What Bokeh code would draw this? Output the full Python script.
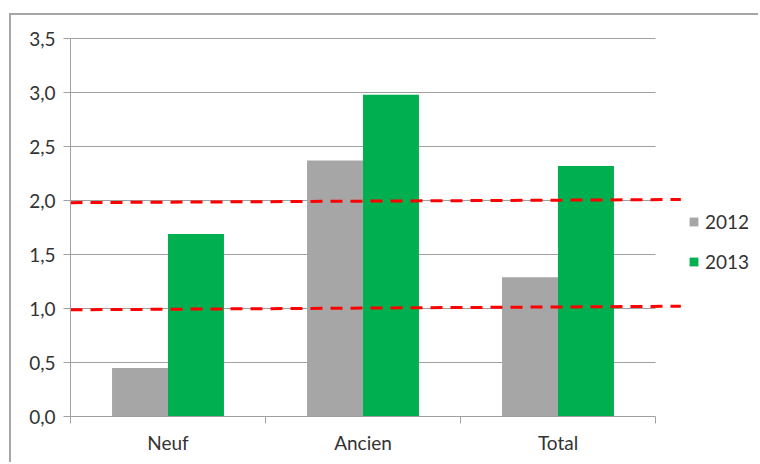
from bokeh.plotting import figure
from bokeh.models import Range1d, FixedTicker, Legend, LegendItem, ColumnDataSource
from bokeh.embed import file_html
from bokeh.resources import INLINE

categories = ["Neuf", "Ancien", "Total"]
values_2012 = [0.45, 2.37, 1.29]
values_2013 = [1.69, 2.98, 2.32]
y_ticks = [0.0, 0.5, 1.0, 1.5, 2.0, 2.5, 3.0, 3.5]
y_labels = ["0,0", "0,5", "1,0", "1,5", "2,0", "2,5", "3,0", "3,5"]
# hand-drawn red reference lines (start/end)
ref_x = [0.0, 3.13]
ref_low = [0.988, 1.021]
ref_high = [1.98, 2.009]

GRAY = "#a6a6a6"
GREEN = "#00b050"
AXIS = "#a0a0a0"
TEXT = "#333333"
FONT = "Lato"
FS = "19px"

n = len(categories)
bar_w = 0.287
centers = [i + 0.5 for i in range(n)]

p = figure(width=749, height=449, output_backend="svg", toolbar_location=None,
           x_range=Range1d(0, 680 / 195), y_range=Range1d(0, 389 / 108),
           min_border_left=59, min_border_top=12, min_border_bottom=48, min_border_right=10,
           margin=(15, 0, 0, 11))
p.styles = {"box-shadow": "-2px -2px 0px 0px #a6a6a6"}
p.outline_line_color = None
p.xgrid.visible = False
p.ygrid.visible = False

# gridlines restricted to the category area
p.segment(x0=0, x1=n, y0=y_ticks[1:], y1=y_ticks[1:], line_color=AXIS, line_width=1)

src12 = ColumnDataSource(dict(x=[c - bar_w / 2 for c in centers], top=values_2012))
src13 = ColumnDataSource(dict(x=[c + bar_w / 2 for c in centers], top=values_2013))
r12 = p.vbar(x="x", top="top", width=bar_w, bottom=0, source=src12, fill_color=GRAY, line_color=None)
r13 = p.vbar(x="x", top="top", width=bar_w, bottom=0, source=src13, fill_color=GREEN, line_color=None)

p.line(ref_x, ref_low, line_color="#ff0000", line_width=3, line_dash="12 8")
p.line(ref_x, ref_high, line_color="#ff0000", line_width=3, line_dash="12 8")

# x axis
xa = p.xaxis[0]
xa.ticker = FixedTicker(ticks=centers, minor_ticks=list(range(n + 1)))
xa.major_label_overrides = {c: lab for c, lab in zip(centers, categories)}
xa.bounds = (0, n)
xa.axis_line_color = AXIS
xa.major_tick_line_color = None
xa.major_tick_out = 0
xa.major_tick_in = 0
xa.minor_tick_line_color = AXIS
xa.minor_tick_out = 7
xa.minor_tick_in = 0
xa.major_label_standoff = 7
xa.major_label_text_font = FONT
xa.major_label_text_font_size = FS
xa.major_label_text_color = TEXT

ya = p.yaxis[0]
ya.ticker = FixedTicker(ticks=y_ticks)
ya.major_label_overrides = {t: lab for t, lab in zip(y_ticks, y_labels)}
ya.bounds = (0, 3.5)
ya.axis_line_color = AXIS
ya.major_tick_line_color = AXIS
ya.major_tick_out = 7
ya.major_tick_in = 0
ya.minor_tick_line_color = None
ya.major_label_standoff = 8
ya.major_label_text_font = FONT
ya.major_label_text_font_size = FS
ya.major_label_text_color = TEXT

legend = Legend(items=[LegendItem(label="2012", renderers=[r12]),
                       LegendItem(label="2013", renderers=[r13])],
                location=(618, 143))
legend.glyph_width = 11
legend.glyph_height = 11
legend.label_standoff = 6
legend.spacing = 17
legend.padding = 0
legend.margin = 0
legend.border_line_color = None
legend.background_fill_alpha = 0
legend.label_text_font = FONT
legend.label_text_font_size = FS
legend.label_text_color = TEXT
p.add_layout(legend)

open("out.html", "w").write(file_html(p, INLINE))
